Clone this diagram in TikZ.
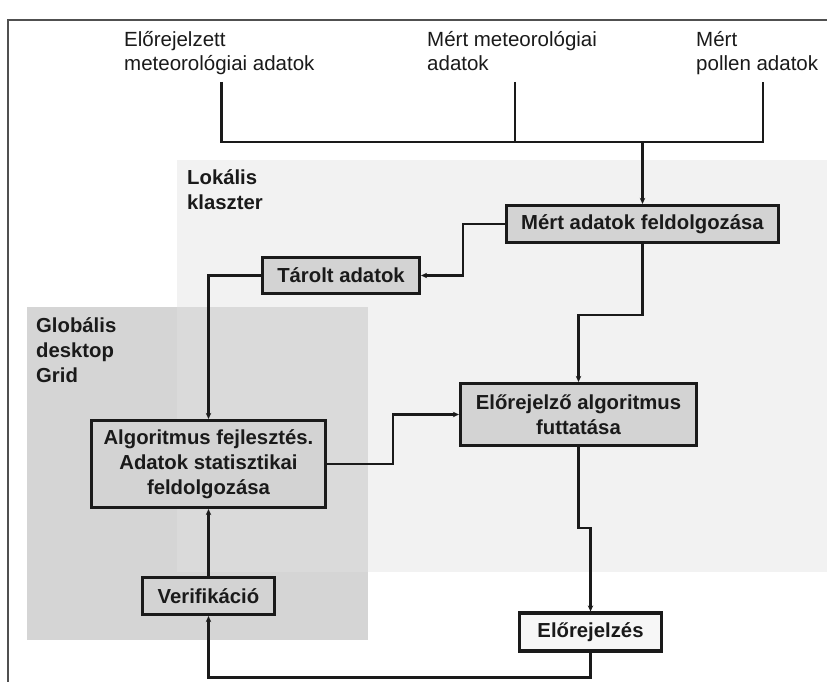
\documentclass[tikz,border=0pt]{standalone}
\usepackage{fontspec}
\setmainfont{Liberation Sans}
\usetikzlibrary{arrows.meta}
\definecolor{lokcol}{HTML}{F2F2F2}
\definecolor{globcol}{HTML}{D5D5D5}
\definecolor{ovcol}{HTML}{DADADA}
\definecolor{boxcol}{HTML}{D3D3D3}
\definecolor{inkcol}{HTML}{1A1A1A}
\definecolor{framecol}{HTML}{505050}
\tikzset{
  lbl/.style={font=\fontsize{20.5bp}{24bp}\selectfont, inner sep=0pt, align=left, text=inkcol},
  rlbl/.style={font=\bfseries\fontsize{20.3bp}{25bp}\selectfont, inner sep=0pt, align=left, text=inkcol},
  stepbox/.style={draw=inkcol, line width=3.2bp, fill=boxcol, inner sep=0pt, align=center,
    font=\bfseries\fontsize{20.3bp}{25bp}\selectfont, text=inkcol},
  conn/.style={draw=inkcol, line width=2.6bp},
  arr/.style={conn, -{Stealth[length=6bp,width=5.5bp]}}
}
\begin{document}
\begin{tikzpicture}[x=1bp,y=-1bp]
\useasboundingbox (0,0) rectangle (827,682);
\fill[white] (0,0) rectangle (827,682);
% frame
\draw[framecol, line width=1.5bp] (8,682) -- (8,20) -- (827,20);
% regions
\fill[lokcol] (177,160) rectangle (827,572);
\fill[globcol] (27,307) rectangle (368,640);
\fill[ovcol] (177,307) rectangle (368,572);
% region labels
\node[rlbl, anchor=base west] (lok) at (187,209) {Lokális\\klaszter};
\node[rlbl, anchor=base west] (glob) at (36,382) {Globális\\desktop\\Grid};
% top labels
\node[lbl, anchor=base west] (l1) at (124,70.5) {Előrejelzett\\meteorológiai adatok};
\node[lbl, anchor=base west] (l2) at (427,70.5) {Mért meteorológiai\\adatok};
\node[lbl, anchor=base west] (l3) at (696,70.5) {Mért\\pollen adatok};
% boxes
\node[stepbox, minimum width=272bp, minimum height=37bp] (mert) at (642.5,224) {Mért adatok feldolgozása};
\node[stepbox, minimum width=157bp, minimum height=36bp] (tarolt) at (341,275.5) {Tárolt adatok};
\node[stepbox, minimum width=234bp, minimum height=87bp] (algo) at (208.5,464) {Algoritmus fejlesztés.\\Adatok statisztikai\\feldolgozása};
\node[stepbox, minimum width=236bp, minimum height=62bp] (elo) at (578.5,414.5) {Előrejelző algoritmus\\futtatása};
\node[stepbox, fill=white!97!black, minimum width=142bp, minimum height=38bp] (elrj) at (590.5,632) {Előrejelzés};
\node[stepbox, minimum width=132bp, minimum height=37bp] (verif) at (208.5,596) {Verifikáció};
% input collector
\coordinate (s1) at (221.7,82);
\coordinate (s2) at (515,82);
\coordinate (s3) at (763,82);
\coordinate (j1) at (221.7,142);
\coordinate (j2) at (515,142);
\coordinate (j3) at (763,142);
\draw[conn] (s1) -- (j1) -- (j3) -- (s3);
\draw[conn] (s2) -- (j2);
\draw[arr] (mert.north |- j1) -- (mert.north);
% flows
\draw[arr] (mert.west) -- ++(-42,0) |- (tarolt.east);
\draw[arr] (tarolt.west) -| (algo.north);
\draw[arr] (mert.south) -- ++(0,71) -| (elo.north);
\draw[arr] (algo.east) -- ++(66,0) |- (elo.west);
\draw[arr] (elo.south) -- ++(0,81) -| (elrj.north);
\draw[arr] (elrj.south) -- ++(0,25) -| (verif.south);
\draw[arr] (verif.north) -- (algo.south);
\end{tikzpicture}
\end{document}
